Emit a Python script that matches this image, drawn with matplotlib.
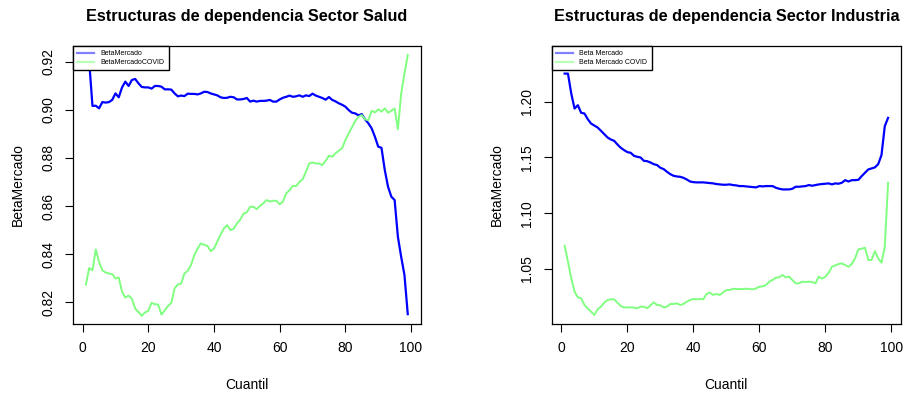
import numpy as np
import matplotlib.pyplot as plt
from matplotlib.lines import Line2D

plt.rcParams["font.family"] = ["Liberation Sans", "DejaVu Sans"]

cuantil = np.arange(1, 100)

# Sector Salud
salud_beta = [
    0.9215, 0.9200, 0.9016, 0.9017, 0.9006, 0.9032, 0.9030, 0.9032, 0.9041, 0.9068,
    0.9052, 0.9093, 0.9117, 0.9099, 0.9124, 0.9128, 0.9110, 0.9095, 0.9093, 0.9093,
    0.9088, 0.9099, 0.9099, 0.9096, 0.9085, 0.9085, 0.9084, 0.9068, 0.9056, 0.9059,
    0.9057, 0.9067, 0.9066, 0.9066, 0.9064, 0.9068, 0.9075, 0.9074, 0.9068, 0.9064,
    0.9060, 0.9052, 0.9049, 0.9050, 0.9054, 0.9052, 0.9043, 0.9043, 0.9045, 0.9049,
    0.9034, 0.9038, 0.9034, 0.9037, 0.9037, 0.9038, 0.9041, 0.9034, 0.9034, 0.9043,
    0.9050, 0.9054, 0.9059, 0.9054, 0.9056, 0.9060, 0.9054, 0.9060, 0.9057, 0.9067,
    0.9059, 0.9054, 0.9049, 0.9042, 0.9053, 0.9041, 0.9035, 0.9027, 0.9021, 0.9013,
    0.8999, 0.8988, 0.8985, 0.8977, 0.8982, 0.8960, 0.8944, 0.8923, 0.8888, 0.8847,
    0.8842, 0.8750, 0.8680, 0.8639, 0.8625, 0.8472, 0.8389, 0.8313, 0.8151,
]
salud_covid = [
    0.8274, 0.8343, 0.8333, 0.8420, 0.8368, 0.8333, 0.8324, 0.8320, 0.8317, 0.8299,
    0.8303, 0.8244, 0.8220, 0.8228, 0.8215, 0.8174, 0.8160, 0.8144, 0.8158, 0.8165,
    0.8198, 0.8192, 0.8191, 0.8149, 0.8167, 0.8185, 0.8198, 0.8258, 0.8274, 0.8278,
    0.8320, 0.8331, 0.8355, 0.8396, 0.8424, 0.8445, 0.8439, 0.8435, 0.8413, 0.8424,
    0.8452, 0.8482, 0.8507, 0.8521, 0.8500, 0.8506, 0.8528, 0.8544, 0.8569, 0.8574,
    0.8597, 0.8597, 0.8587, 0.8601, 0.8611, 0.8625, 0.8619, 0.8622, 0.8622, 0.8607,
    0.8619, 0.8653, 0.8666, 0.8684, 0.8683, 0.8700, 0.8711, 0.8743, 0.8777, 0.8781,
    0.8777, 0.8777, 0.8770, 0.8788, 0.8809, 0.8805, 0.8819, 0.8830, 0.8840, 0.8874,
    0.8902, 0.8927, 0.8953, 0.8971, 0.8978, 0.8960, 0.8957, 0.8996, 0.8989, 0.9002,
    0.8992, 0.9006, 0.8988, 0.8996, 0.9005, 0.8919, 0.9068, 0.9151, 0.9228,
]

# Sector Industria
industria_beta = [
    1.2250, 1.2250, 1.2072, 1.1937, 1.1967, 1.1899, 1.1893, 1.1842, 1.1803, 1.1785,
    1.1767, 1.1738, 1.1708, 1.1678, 1.1660, 1.1648, 1.1615, 1.1586, 1.1565, 1.1547,
    1.1541, 1.1514, 1.1505, 1.1499, 1.1469, 1.1466, 1.1454, 1.1439, 1.1431, 1.1407,
    1.1395, 1.1371, 1.1350, 1.1335, 1.1329, 1.1326, 1.1317, 1.1302, 1.1284, 1.1278,
    1.1276, 1.1276, 1.1276, 1.1273, 1.1270, 1.1267, 1.1261, 1.1258, 1.1255, 1.1255,
    1.1258, 1.1252, 1.1249, 1.1243, 1.1243, 1.1240, 1.1237, 1.1234, 1.1231, 1.1243,
    1.1240, 1.1243, 1.1243, 1.1243, 1.1228, 1.1219, 1.1213, 1.1213, 1.1213, 1.1219,
    1.1237, 1.1237, 1.1240, 1.1243, 1.1252, 1.1246, 1.1252, 1.1258, 1.1261, 1.1264,
    1.1267, 1.1258, 1.1267, 1.1264, 1.1273, 1.1296, 1.1284, 1.1296, 1.1296, 1.1299,
    1.1332, 1.1362, 1.1392, 1.1401, 1.1410, 1.1439, 1.1520, 1.1779, 1.1854,
]
industria_covid = [
    1.0709, 1.0566, 1.0417, 1.0298, 1.0247, 1.0238, 1.0178, 1.0148, 1.0119, 1.0089,
    1.0140, 1.0163, 1.0199, 1.0223, 1.0229, 1.0229, 1.0199, 1.0169, 1.0157, 1.0157,
    1.0157, 1.0155, 1.0149, 1.0163, 1.0163, 1.0149, 1.0175, 1.0202, 1.0178, 1.0175,
    1.0157, 1.0163, 1.0187, 1.0187, 1.0193, 1.0178, 1.0187, 1.0208, 1.0223, 1.0232,
    1.0229, 1.0232, 1.0229, 1.0277, 1.0289, 1.0268, 1.0277, 1.0268, 1.0292, 1.0312,
    1.0312, 1.0324, 1.0321, 1.0321, 1.0321, 1.0324, 1.0321, 1.0318, 1.0327, 1.0342,
    1.0345, 1.0357, 1.0387, 1.0402, 1.0423, 1.0426, 1.0447, 1.0426, 1.0432, 1.0402,
    1.0372, 1.0372, 1.0387, 1.0384, 1.0387, 1.0384, 1.0372, 1.0432, 1.0414, 1.0432,
    1.0468, 1.0521, 1.0533, 1.0545, 1.0551, 1.0536, 1.0521, 1.0545, 1.0596, 1.0676,
    1.0682, 1.0691, 1.0581, 1.0581, 1.0661, 1.0596, 1.0557, 1.0700, 1.1273,
]

salud_ticks = [0.82, 0.84, 0.86, 0.88, 0.90, 0.92]
industria_ticks = [1.05, 1.10, 1.15, 1.20]
x_ticks = [0, 20, 40, 60, 80, 100]

BLUE = "#0000ff"
GREEN = "#80ff80"

fig = plt.figure(figsize=(9.04, 3.96), dpi=100)
ax1 = fig.add_axes([0.0808, 0.1818, 0.3845, 0.702])
ax2 = fig.add_axes([0.6103, 0.1818, 0.3864, 0.702])


def panel(ax, beta, covid, title, yticks, ylim, labels):
    ax.plot(cuantil, beta, color=BLUE, lw=1.6)
    ax.plot(cuantil, covid, color=GREEN, lw=1.4)
    ax.set_xlim(-2.92, 102.92)
    ax.set_ylim(*ylim)
    ax.set_xticks(x_ticks)
    ax.set_yticks(yticks)
    ax.set_yticklabels([f"{v:.2f}" for v in yticks], rotation=90, va="center")
    ax.tick_params(direction="out", length=5.5, width=0.8, labelsize=10, pad=7)
    for s in ax.spines.values():
        s.set_linewidth(0.9)
    ax.set_xlabel("Cuantil", fontsize=10, labelpad=16)
    ax.set_ylabel("BetaMercado", fontsize=10, labelpad=12)
    ax.set_title(title, fontsize=11.7, fontweight="bold", pad=18)
    handles = [
        Line2D([], [], color="#8080ff", lw=1.6),
        Line2D([], [], color="#b8ffb8", lw=1.6),
    ]
    ax.legend(handles, labels, loc="upper left", fontsize=5.0, frameon=True,
              fancybox=False, framealpha=1, edgecolor="black",
              borderaxespad=0, handlelength=2.4, handletextpad=1.0,
              borderpad=0.6, labelspacing=0.3)


panel(ax1, salud_beta, salud_covid, "Estructuras de dependencia Sector Salud",
      salud_ticks, (0.811, 0.9265), ["BetaMercado", "BetaMercadoCOVID"])
panel(ax2, industria_beta, industria_covid,
      "Estructuras de dependencia Sector Industria",
      industria_ticks, (1.0008, 1.2497), ["Beta Mercado", "Beta Mercado COVID"])

fig.savefig("out.png", dpi=100)
